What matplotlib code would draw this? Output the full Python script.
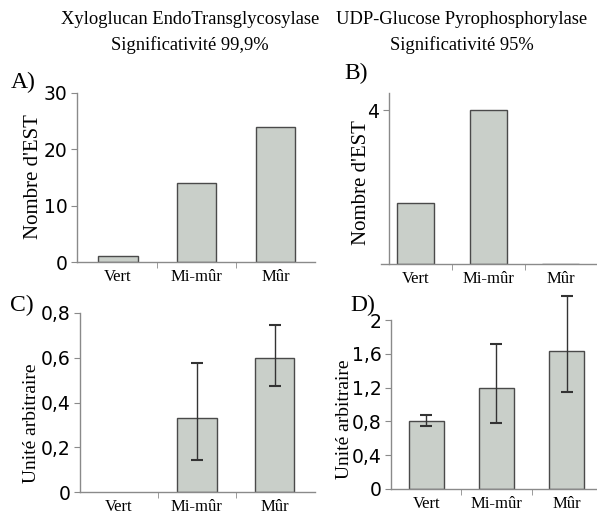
import matplotlib

matplotlib.use("Agg")
import matplotlib.pyplot as plt
import numpy as np

# categories and values
stages = ["Vert", "Mi-mûr", "Mûr"]
est_xet = [1, 14, 24]
est_ugp = [1.6, 4, 0]
expr_xet = [np.nan, 0.33, 0.60]
expr_xet_lo = [0, 0.186, 0.128]
expr_xet_hi = [0, 0.247, 0.148]
expr_ugp = [0.81, 1.19, 1.63]
expr_ugp_lo = [0.06, 0.41, 0.48]
expr_ugp_hi = [0.07, 0.53, 0.65]

W, H = 597, 517
BAR = "#c9cfc9"
EDGE = "#4a4a4a"
SPINE = "#8a8a8a"
SERIF = "Liberation Serif"
SANS = "DejaVu Sans"

fig = plt.figure(figsize=(W / 100, H / 100), dpi=100)


def px_axes(left, right, bottom, top):
    return fig.add_axes([left / W, 1 - bottom / H, (right - left) / W, (bottom - top) / H])


def style(ax, xlim, ylim, yticks, yticklabels, spine_x=None):
    x = np.arange(len(stages))
    ax.set_xlim(*xlim)
    ax.set_ylim(*ylim)
    for s in ("top", "right"):
        ax.spines[s].set_visible(False)
    for s in ("left", "bottom"):
        ax.spines[s].set_color(SPINE)
        ax.spines[s].set_linewidth(1.0)
    if spine_x is not None:
        ax.spines["left"].set_position(("data", spine_x))
    ax.set_xticks(x)
    ax.set_xticklabels(stages, fontfamily=SERIF, fontsize=12)
    ax.tick_params(axis="x", which="major", length=0, pad=5)
    ax.set_xticks([0.5, 1.5], minor=True)
    ax.tick_params(axis="x", which="minor", length=4, color=SPINE, direction="out")
    ax.set_yticks(yticks)
    ax.set_yticklabels(yticklabels, fontfamily=SANS, fontsize=13.5)
    ax.tick_params(axis="y", length=4, color=SPINE, direction="out", pad=3)
    ax.set_facecolor("none")
    return x


def ylabel(text, cx, cy, size):
    fig.text(cx / W, 1 - cy / H, text, rotation=90, ha="center", va="center",
             fontfamily=SERIF, fontsize=size)


# A) XET, EST counts
axA = px_axes(77, 315, 262, 93)
x = style(axA, (-0.52, 2.5), (0, 30), [0, 10, 20, 30], ["0", "10", "20", "30"])
axA.bar(x, est_xet, width=0.5, color=BAR, edgecolor=EDGE, linewidth=1.0)
ylabel("Nombre d'EST", 34, 177, 15)

# B) UGPase, EST counts
axB = px_axes(381, 597, 264, 93)
x = style(axB, (-0.48, 2.5), (0, 4.45), [4], ["4"], spine_x=-0.37)
axB.bar(x, est_ugp, width=0.51, color=BAR, edgecolor=EDGE, linewidth=1.0)
ylabel("Nombre d'EST", 361, 183, 15)

# C) XET, relative expression
axC = px_axes(80, 315, 492, 313)
x = style(axC, (-0.5, 2.52), (0, 0.8), [0, 0.2, 0.4, 0.6, 0.8],
          ["0", "0,2", "0,4", "0,6", "0,8"])
axC.bar(x, expr_xet, width=0.51, color=BAR, edgecolor=EDGE, linewidth=1.0)
axC.errorbar(x[1:], expr_xet[1:], yerr=[expr_xet_lo[1:], expr_xet_hi[1:]], fmt="none",
             ecolor="#333333", elinewidth=1.0, capsize=4, capthick=1.5, clip_on=False)
ylabel("Unité arbitraire", 32, 423, 14)

# D) UGPase, relative expression
axD = px_axes(391, 597, 489, 320)
x = style(axD, (-0.5, 2.43), (0, 2.0), [0, 0.4, 0.8, 1.2, 1.6, 2.0],
          ["0", "0,4", "0,8", "1,2", "1,6", "2"])
axD.bar(x, expr_ugp, width=0.5, color=BAR, edgecolor=EDGE, linewidth=1.0)
axD.errorbar(x, expr_ugp, yerr=[expr_ugp_lo, expr_ugp_hi], fmt="none",
             ecolor="#333333", elinewidth=1.0, capsize=4, capthick=1.5, clip_on=False)
ylabel("Unité arbitraire", 345, 419, 14)

# headers and panel letters
fig.text(190 / W, 1 - 20 / H, "Xyloglucan EndoTransglycosylase", ha="center", va="center",
         fontfamily=SERIF, fontsize=13.3)
fig.text(190 / W, 1 - 45 / H, "Significativité 99,9%", ha="center", va="center",
         fontfamily=SERIF, fontsize=13.3)
fig.text(462 / W, 1 - 20 / H, "UDP-Glucose Pyrophosphorylase", ha="center", va="center",
         fontfamily=SERIF, fontsize=13.3)
fig.text(462 / W, 1 - 45 / H, "Significativité 95%", ha="center", va="center",
         fontfamily=SERIF, fontsize=13.3)
for label, lx, ly in [("A)", 11, 82), ("B)", 344, 73), ("C)", 10, 305), ("D)", 350, 305)]:
    fig.text(lx / W, 1 - ly / H, label, ha="left", va="center", fontfamily=SERIF, fontsize=17)

fig.savefig("out.png", dpi=100, facecolor="white")
plt.close(fig)
